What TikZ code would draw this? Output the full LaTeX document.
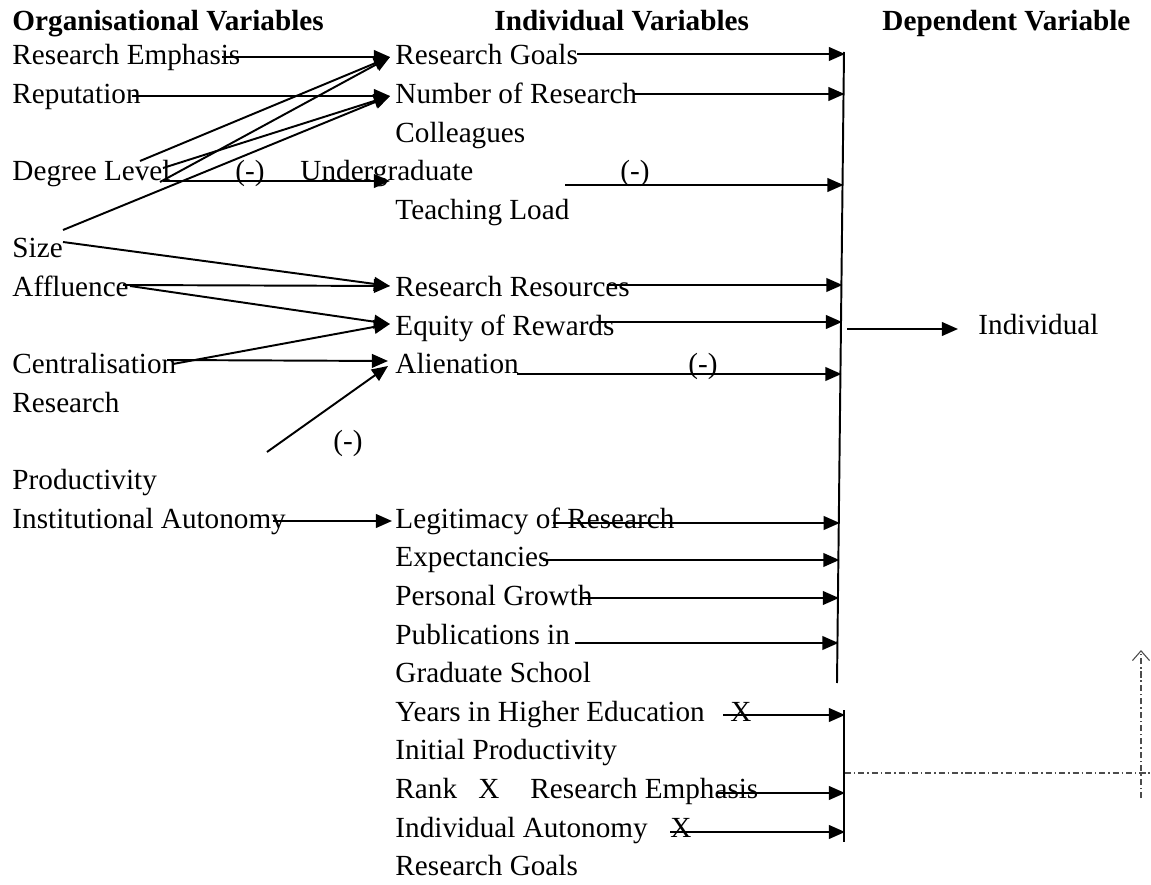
\documentclass[tikz,border=0pt]{standalone}
\usepackage{fontspec}
\setmainfont{Liberation Serif}
\usetikzlibrary{arrows.meta}

\begin{document}
\begin{tikzpicture}[x=0.411pt, y=-0.411pt,
    txt/.style={anchor=base west, inner sep=0pt, font=\fontsize{12}{14}\selectfont},
    head/.style={txt, font=\fontsize{12}{14}\selectfont\bfseries},
    arr/.style={-{Triangle[length=6.6pt, width=5.6pt]}, line width=0.8pt},
    bar/.style={line width=0.8pt},
    dashdot/.style={black!70, line width=0.45pt, dash pattern=on 2.5pt off 1.2pt on 0.6pt off 1.2pt}]
  \useasboundingbox (0,0) rectangle (1151,885);

  % Headings
  \node[head] (org)  at (12,31)  {Organisational Variables};
  \node[head] (indv) at (494,31) {Individual Variables};
  \node[head] (dep)  at (882,31) {Dependent Variable};

  % Organisational variables (row k has baseline 65+38.6k)
  \foreach \name/\k/\t in {re/0/Research Emphasis, repu/1/Reputation, deg/3/Degree Level,
      size/5/Size, affl/6/Affluence, cent/8/Centralisation, res/9/Research,
      prod/11/Productivity, inst/12/Institutional Autonomy}
    \node[txt] (\name) at (12,{65+38.6*\k}) {\t};

  % Individual variables
  \foreach \name/\k/\t in {rg/0/Research Goals, nrc/1/Number of Research, coll/2/Colleagues,
      tl/4/Teaching Load, rr/6/Research Resources, eq/7/Equity of Rewards,
      al/8/Alienation, leg/12/Legitimacy of Research, expc/13/Expectancies,
      pg/14/Personal Growth, pub/15/Publications in, gs/16/Graduate School,
      yhe/17/Years in Higher Education, ip/18/Initial Productivity, rank/19/Rank,
      ia/20/Individual Autonomy, rgb/21/Research Goals}
    \node[txt] (\name) at (395,{65+38.6*\k}) {\t};
  \node[txt] (ug)  at (300,181)   {Undergraduate};
  \node[txt] (xa)  at (730,721)   {X};
  \node[txt] (xb)  at (478,798)   {X};
  \node[txt] (reb) at (530,798)   {Research Emphasis};
  \node[txt] (xc)  at (670,837)   {X};

  % Negative signs
  \node[txt] (ma) at (235,181) {(-)};
  \node[txt] (mb) at (620,181) {(-)};
  \node[txt] (mc) at (688,374) {(-)};
  \node[txt] (md) at (333,451) {(-)};

  % Dependent variable
  \node[txt] (ind) at (978,335) {Individual};

  % Arrow tips at the individual variables
  \coordinate (rg-in)  at (390,57);
  \coordinate (nrc-in) at (390,96);
  \coordinate (ug-in)  at (390,181);
  \coordinate (rr-in)  at (390,286);
  \coordinate (eq-in)  at (390,324);
  \coordinate (al-in)  at (388,361);
  \coordinate (al-dg)  at (388,366);
  \coordinate (leg-in) at (392,521);

  % Organisational -> individual arrows
  \foreach \xs/\ys/\t [count=\i] in {222/57/rg-in, 132/96/nrc-in, 140/161/rg-in, 163/168/nrc-in,
      160/182/rg-in, 63/230/nrc-in, 163/181/ug-in, 63/242/rr-in, 123/285/rr-in,
      130/286/eq-in, 173/364/eq-in, 167/360/al-in, 267/452/al-dg, 273/521/leg-in} {
    \coordinate (org\i) at (\xs,\ys);
    \draw[arr] (org\i) -- (\t);
  }

  % Collecting bars
  \coordinate (bara) at (844,52);
  \coordinate (barb) at (837,683);
  \coordinate (barc) at (844,710);
  \coordinate (bard) at (844,842);
  \draw[bar] (bara) -- (barb);
  \draw[bar] (barc) -- (bard);

  % Individual -> bar arrows
  \foreach \xs/\ys [count=\i] in {577/54, 633/94, 565/185, 607/285, 597/322, 517/374,
      553/523, 543/560, 580/598, 575/643} {
    \coordinate (src\i) at (\xs,\ys);
    \coordinate (tgt\i) at ({845-7*(\ys-52)/631},\ys);
    \draw[arr] (src\i) -- (tgt\i);
  }
  \foreach \xs/\ys [count=\i] in {723/715, 717/793, 670/832} {
    \coordinate (isrc\i) at (\xs,\ys);
    \coordinate (itgt\i) at (845,\ys);
    \draw[arr] (isrc\i) -- (itgt\i);
  }

  % Bar -> dependent variable
  \coordinate (jn) at (847,329);
  \coordinate (ind-in) at (958,329);
  \draw[arr] (jn) -- (ind-in);

  % Dash-dot feedback line
  \coordinate (fa) at (845,773);
  \coordinate (fb) at (1151,773);
  \coordinate (fc) at (1141,798);
  \coordinate (fd) at (1141,650);
  \draw[dashdot] (fa) -- (fb);
  \draw[dashdot, -{Straight Barb[length=4pt, width=7pt, line width=0.45pt]}] (fc) -- (fd);

\end{tikzpicture}
\end{document}
